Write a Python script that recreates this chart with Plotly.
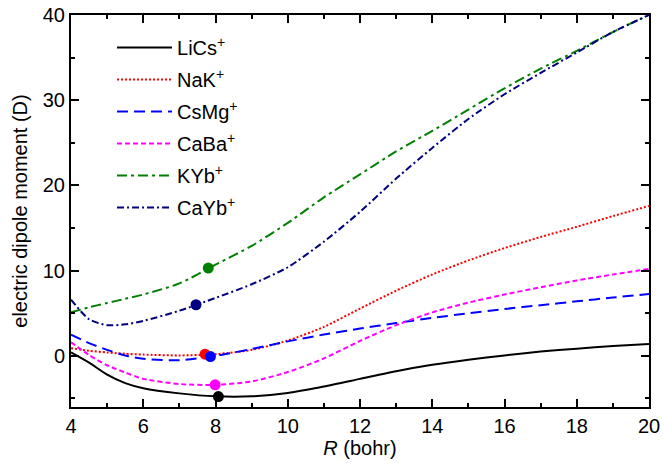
import plotly.graph_objects as go

R = [4, 4.5, 5, 5.5, 6, 7, 8, 9, 10, 11, 12, 13, 14, 15, 16, 17, 18, 19, 20]

lics = [0.4, -0.8, -2.2, -3.2, -3.8, -4.4, -4.75, -4.75, -4.35, -3.6, -2.7, -1.8, -1.05, -0.45, 0.05, 0.5, 0.85, 1.15, 1.4]
nak = [0.9, 0.6, 0.4, 0.25, 0.15, 0.05, 0.2, 0.7, 1.8, 3.4, 5.55, 7.65, 9.55, 11.2, 12.65, 13.95, 15.15, 16.4, 17.6]
csmg = [2.5, 1.5, 0.7, 0.05, -0.35, -0.5, 0.0, 0.8, 1.7, 2.5, 3.2, 3.85, 4.45, 5.0, 5.5, 5.95, 6.4, 6.85, 7.25]
caba = [1.6, 0.1, -1.1, -1.95, -2.7, -3.3, -3.4, -3.0, -1.9, -0.3, 1.75, 3.6, 5.1, 6.25, 7.2, 8.05, 8.85, 9.55, 10.2]
kyb = [5.1, 5.7, 6.2, 6.7, 7.2, 8.5, 10.7, 12.9, 15.6, 18.6, 21.3, 24.0, 26.4, 28.9, 31.4, 33.7, 35.8, 38.0, 40.0]
cayb = [6.6, 4.3, 3.6, 3.7, 4.1, 5.3, 6.8, 8.4, 10.4, 13.4, 16.9, 20.8, 24.4, 27.8, 30.7, 33.2, 35.6, 38.0, 40.0]

# equilibrium points (R_e, d)
eq_R = [8.08, 7.71, 7.86, 7.99, 7.80, 7.46]
eq_d = [-4.77, 0.2, -0.08, -3.4, 10.3, 6.0]

names = ["LiCs<sup>+</sup>", "NaK<sup>+</sup>", "CsMg<sup>+</sup>", "CaBa<sup>+</sup>", "KYb<sup>+</sup>", "CaYb<sup>+</sup>"]
series = [lics, nak, csmg, caba, kyb, cayb]
colors = ["#000000", "#ff0000", "#0000ff", "#ff00ff", "#008000", "#000080"]
dashes = ["solid", "2px,2px", "11px,6px", "5px,3px", "10px,4px,3px,4px", "7px,3px,2px,3px"]

FONT = "Liberation Sans, Arial"

fig = go.Figure()
for i, (nm, ys, c, d) in enumerate(zip(names, series, colors, dashes)):
    fig.add_trace(go.Scatter(x=R, y=ys, mode="lines", name=nm, legendgroup=str(i),
                             line=dict(color=c, width=2, dash=d, shape="spline", smoothing=0.7)))
for i in range(len(names)):
    fig.add_trace(go.Scatter(x=[eq_R[i]], y=[eq_d[i]], mode="markers", showlegend=False,
                             marker=dict(color=colors[i], size=11)))

axis_common = dict(showline=True, linecolor="black", linewidth=2, mirror="ticks",
                   ticks="inside", ticklen=8, tickwidth=1.5, tickcolor="black",
                   showgrid=False, zeroline=False, automargin=False,
                   tickfont=dict(family=FONT, size=20, color="black"))

fig.update_xaxes(range=[4, 20], dtick=2, tick0=4,
                 minor=dict(ticks="inside", ticklen=4, dtick=1, tickcolor="black", tickwidth=1.5),
                 title=dict(text="<i>R</i> (bohr)", font=dict(family=FONT, size=20, color="black"), standoff=4),
                 **axis_common)
fig.update_yaxes(range=[-6, 40], dtick=10, tick0=0,
                 minor=dict(ticks="inside", ticklen=4, dtick=5, tickcolor="black", tickwidth=1.5),
                 title=dict(text="electric dipole moment (D)", font=dict(family=FONT, size=20, color="black"), standoff=10),
                 **axis_common)

fig.update_layout(
    width=662, height=465,
    margin=dict(l=71, r=13, t=15, b=58),
    plot_bgcolor="white", paper_bgcolor="white",
    font=dict(family=FONT, color="black"),
    legend=dict(x=0.071, y=0.967, xanchor="left", yanchor="top", bgcolor="rgba(0,0,0,0)",
                font=dict(family=FONT, size=20, color="black"),
                itemwidth=55, tracegroupgap=3),
)

fig.write_html("out.html", config={"displayModeBar": False},
               post_script="document.body.style.margin='0';")
